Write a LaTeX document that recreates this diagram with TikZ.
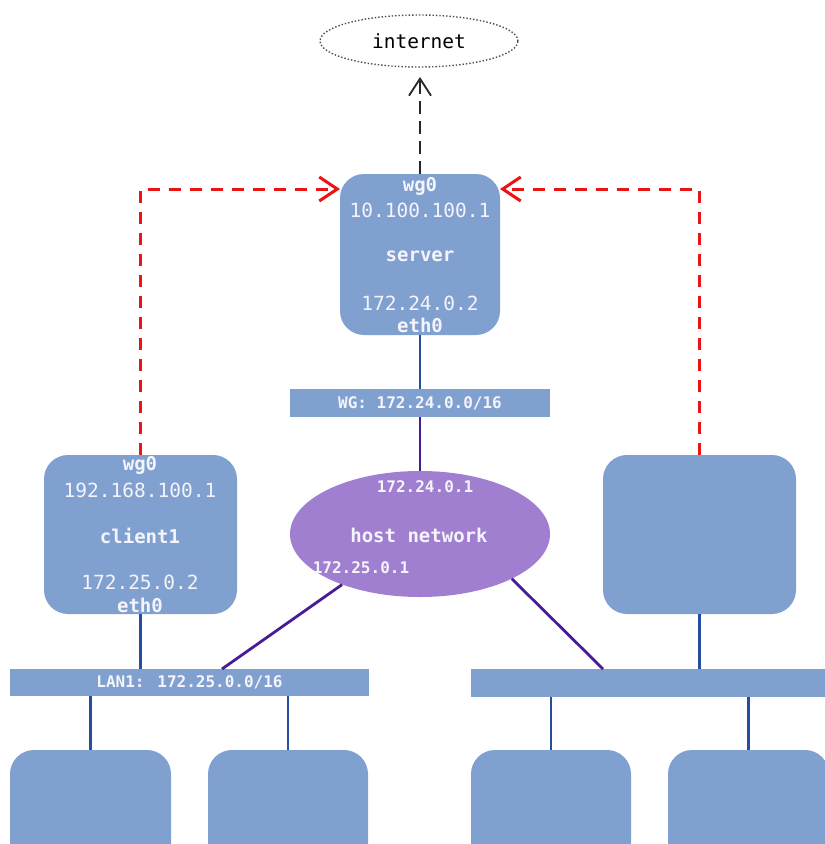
\documentclass[tikz,border=0pt]{standalone}
\usepackage{fontspec}
\newfontfamily\dmono{DejaVu Sans Mono}
\usetikzlibrary{shapes.geometric,arrows.meta}
\definecolor{boxc}{RGB}{128,161,208}
\definecolor{linec}{RGB}{38,78,160}
\definecolor{purp}{RGB}{160,126,208}
\definecolor{purpline}{RGB}{72,28,150}
\definecolor{txtc}{RGB}{244,244,250}
\definecolor{redc}{RGB}{235,20,20}
\begin{document}
\begin{tikzpicture}[x=1pt,y=-1pt,
  hostbox/.style={fill=boxc,rounded corners=24pt,inner sep=0pt,draw=none},
  bar/.style={fill=boxc,inner sep=0pt,draw=none,text=txtc,font=\dmono\bfseries\fontsize{16}{16}\selectfont},
  big/.style={text=txtc,inner sep=0pt,font=\dmono\fontsize{19.5}{19.5}\selectfont},
  bigb/.style={text=txtc,inner sep=0pt,font=\dmono\bfseries\fontsize{19}{19}\selectfont},
  small/.style={text=txtc,inner sep=0pt,font=\dmono\bfseries\fontsize{16}{16}\selectfont},
  bline/.style={draw=linec,line width=2.8pt},
  pline/.style={draw=purpline,line width=2.8pt},
  redarrow/.style={draw=redc,line width=3pt,dash pattern=on 12pt off 9pt,-{Straight Barb[length=18pt,width=24pt,line width=3pt]}},
]
\useasboundingbox (0,0) rectangle (825,844);
\fill[white] (0,0) rectangle (825,844);

% internet
\node[draw=black!70,dotted,line width=1.4pt,ellipse,minimum width=198pt,minimum height=52pt,inner sep=0pt] (inet) at (419,41) {};
\node[inner sep=0pt,font=\dmono\fontsize{19.5}{19.5}\selectfont,text=black] (inettxt) at (419,41) {internet};

% server
\node[hostbox,minimum width=160pt,minimum height=161pt] (server) at (420,254.5) {};
\node[bigb] (swg) at (420,186) {wg0};
\node[big] (sip1) at (420,210) {10.100.100.1};
\node[bigb] (sname) at (420,256) {server};
\node[big] (sip2) at (420,303) {172.24.0.2};
\node[bigb] (seth) at (420,325) {eth0};

% WG bar
\node[bar,minimum width=260pt,minimum height=28pt] (wgbar) at (420,403) {WG: 172.24.0.0/16};

% host network
\node[ellipse,fill=purp,minimum width=260pt,minimum height=126pt,inner sep=0pt] (hostnet) at (420,534) {};
\node[small] (h1) at (425,487) {172.24.0.1};
\node[bigb] (h2) at (419,535) {host network};
\node[small] (h3) at (361,568) {172.25.0.1};

% client1
\node[hostbox,minimum width=193pt,minimum height=159pt] (client) at (140.5,534.5) {};
\node[bigb] (cwg) at (140,465) {wg0};
\node[big] (cip1) at (140,490) {192.168.100.1};
\node[bigb] (cname) at (140,536) {client1};
\node[big] (cip2) at (140,582) {172.25.0.2};
\node[bigb] (ceth) at (140,605) {eth0};

% right host
\node[hostbox,minimum width=193pt,minimum height=159pt] (client2) at (699.5,534.5) {};

% bars
\node[bar,minimum width=359pt,minimum height=27pt] (lan1) at (189.5,682.5) {LAN1: 172.25.0.0/16};
\node[bar,minimum width=364pt,minimum height=28pt] (lan2) at (653,683) {};

% bottom hosts
\node[hostbox,minimum width=161pt,minimum height=120pt] (b1) at (90.5,810) {};
\node[hostbox,minimum width=160pt,minimum height=120pt] (b2) at (288,810) {};
\node[hostbox,minimum width=160pt,minimum height=120pt] (b3) at (551,810) {};
\node[hostbox,minimum width=161pt,minimum height=120pt] (b4) at (748.5,810) {};

% connectors
\draw[bline] (server.south) -- (wgbar.north);
\draw[pline] (wgbar.south) -- (hostnet.north);
\draw[bline] (client.south) -- (lan1.north -| client.south);
\draw[bline] (client2.south) -- (lan2.north -| client2.south);
\coordinate (l1a) at (222,669);
\coordinate (l2a) at (603,669);
\draw[pline] (hostnet.213) -- (l1a);
\draw[pline] (hostnet.334) -- (l2a);
\draw[bline] (lan1.south -| b1.north) -- (b1.north);
\draw[bline] (lan1.south -| b2.north) -- (b2.north);
\draw[bline] (lan2.south -| b3.north) -- (b3.north);
\draw[bline] (lan2.south -| b4.north) -- (b4.north);

% internet arrow
\coordinate (inetbot) at (420,77);
\draw[black!85,line width=1.8pt,dash pattern=on 13pt off 7pt,-{Straight Barb[length=17pt,width=22pt,line width=1.8pt]}] (server.north) -- (inetbot);

% red tunnels
\coordinate (sl) at (340,189);
\coordinate (sr) at (500,189);
\draw[redarrow] (client.north) |- (sl);
\draw[redarrow] (client2.north) |- (sr);
\end{tikzpicture}
\end{document}
